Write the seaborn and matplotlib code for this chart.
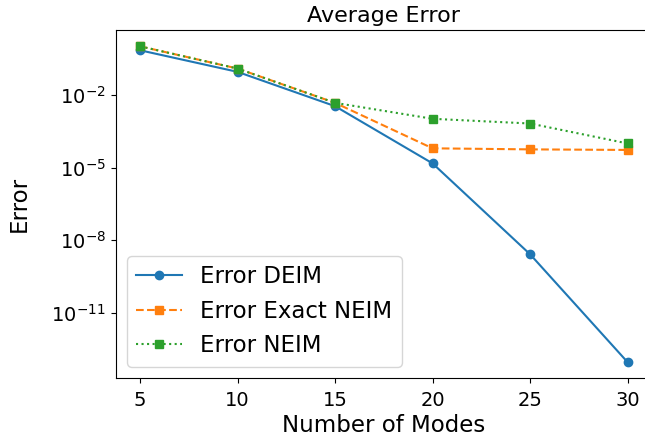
import numpy as np
import pandas as pd
import matplotlib
matplotlib.use('Agg')
import matplotlib.pyplot as plt
import seaborn as sns

# number of modes on the x axis
modes = [5, 10, 15, 20, 25, 30]

# average errors (log scale)
error_deim = [0.72, 0.092, 3.5e-3, 1.5e-5, 2.6e-9, 8.9e-14]
error_exact_neim = [1.05, 0.126, 4.8e-3, 6.3e-5, 5.7e-5, 5.4e-5]
error_neim = [1.05, 0.126, 4.8e-3, 1.05e-3, 6.7e-4, 1.0e-4]

series_names = ['Error DEIM', 'Error Exact NEIM', 'Error NEIM']

plt.rcParams['font.family'] = ['DejaVu Sans']
plt.rcParams['font.size'] = 14

fig = plt.figure(figsize=(6.45, 4.4), dpi=100)
# the reference is cropped on the right, so the axes run past the figure edge
ax = fig.add_axes([115.6 / 645, 1 - 378 / 440, (652 - 115.6) / 645, (378 - 30.5) / 440])

palette = sns.color_palette('tab10')
styles = [('o', '-'), ('s', '--'), ('s', ':')]

for i, (name, values) in enumerate(zip(series_names, [error_deim, error_exact_neim, error_neim])):
    df = pd.DataFrame({'modes': modes, 'error': values})
    marker, ls = styles[i]
    sns.lineplot(data=df, x='modes', y='error', ax=ax, color=palette[i],
                 marker=marker, linestyle=ls, linewidth=1.5, markersize=6,
                 markeredgewidth=1, markeredgecolor=palette[i], label=name)

ax.set_yscale('log')
ax.set_yticks([1e-2, 1e-5, 1e-8, 1e-11])
ax.minorticks_off()
ax.set_xticks(modes)
ax.set_xlabel('Number of Modes', fontsize=16.5, labelpad=3)
ax.set_ylabel('Error', fontsize=16.5, labelpad=15)
ax.set_title('Average Error', fontsize=16)
ax.tick_params(labelsize=14)
ax.tick_params(axis='x', pad=6)
ax.legend(loc='lower left', fontsize=16.5)

fig.savefig('out.png', dpi=100)
